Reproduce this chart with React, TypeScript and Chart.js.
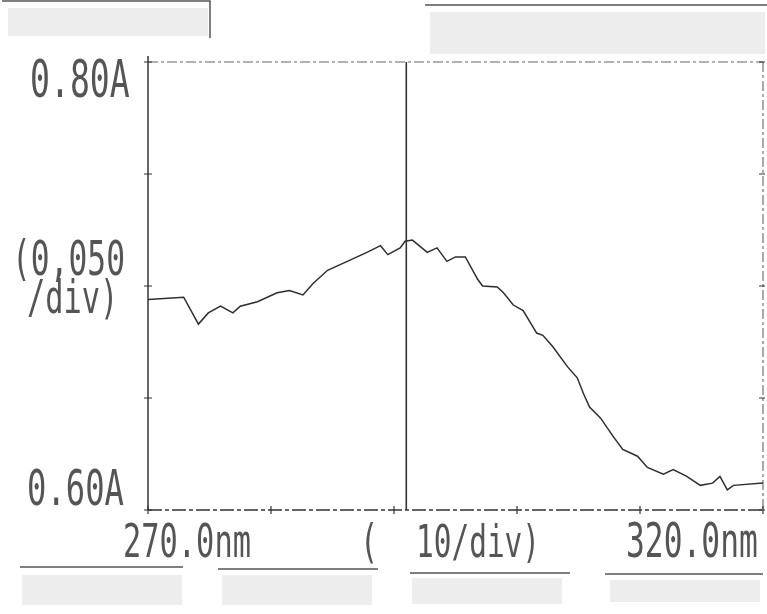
import React, { useEffect, useRef } from "react";
import { Chart, registerables } from "chart.js";

Chart.register(...registerables);

const wavelengths = [270.0, 272.9, 274.1, 274.9, 275.9, 276.9, 277.5, 278.9, 280.5, 281.5, 282.6, 283.4, 284.6, 286.2, 287.8, 288.9, 289.5, 290.5, 290.9, 291.5, 292.7, 293.5, 294.3, 295.0, 295.8, 296.8, 297.2, 298.4, 298.9, 299.7, 300.5, 301.1, 301.6, 302.1, 302.9, 304.1, 304.9, 305.4, 305.9, 306.8, 307.8, 308.6, 309.8, 310.6, 311.9, 312.7, 313.8, 314.9, 315.9, 316.5, 317.1, 317.6, 320.0];
const absorbance = [0.694, 0.695, 0.683, 0.688, 0.691, 0.688, 0.691, 0.693, 0.697, 0.698, 0.696, 0.701, 0.707, 0.711, 0.715, 0.718, 0.714, 0.717, 0.720, 0.7205, 0.715, 0.717, 0.711, 0.713, 0.713, 0.703, 0.700, 0.6996, 0.697, 0.6915, 0.689, 0.6835, 0.679, 0.678, 0.673, 0.664, 0.659, 0.652, 0.646, 0.641, 0.633, 0.627, 0.624, 0.619, 0.616, 0.618, 0.615, 0.611, 0.612, 0.615, 0.609, 0.611, 0.612];

const xTicks = [270, 280, 290, 300, 310, 320];
const yTicks = [0.6, 0.65, 0.7, 0.75, 0.8];
const cursorWavelength = 291.0;

const yTopLabel = "0.80A";
const yMidLabel = ["(0,050", "/div)"];
const yBottomLabel = "0.60A";
const xLeftLabel = "270.0nm";
const xMidOpen = "(";
const xMidLabel = "10/div)";
const xRightLabel = "320.0nm";

const FONT = '"DejaVu Sans Mono", "Liberation Mono", monospace';
const TEXT = "#555";

function stretched(ctx: CanvasRenderingContext2D, text: string, x: number, baseline: number, size: number, sy: number) {
  ctx.save();
  ctx.translate(x, baseline);
  ctx.scale(0.92, sy);
  ctx.font = `${size}px ${FONT}`;
  ctx.fillStyle = TEXT;
  ctx.textAlign = "left";
  ctx.textBaseline = "alphabetic";
  ctx.fillText(text, 0, 0);
  ctx.restore();
}

const framePlugin = {
  id: "framePlugin",
  beforeDatasetsDraw(chart: any) {
    const ctx: CanvasRenderingContext2D = chart.ctx;
    const { left, right, top, bottom } = chart.chartArea;
    const xs = chart.scales.x;
    const ys = chart.scales.y;
    ctx.save();
    // header / footer smudges
    ctx.fillStyle = "rgba(0,0,0,0.07)";
    ctx.fillRect(8, 8, 200, 28);
    ctx.fillRect(430, 12, 335, 42);
    ctx.fillRect(22, 575, 160, 30);
    ctx.fillRect(222, 575, 150, 30);
    ctx.fillRect(412, 578, 150, 26);
    ctx.fillRect(610, 580, 150, 22);
    ctx.strokeStyle = "#555";
    ctx.lineWidth = 1.5;
    ctx.beginPath();
    ctx.moveTo(2, 1); ctx.lineTo(210, 1); ctx.lineTo(210, 38);
    ctx.moveTo(425, 5); ctx.lineTo(767, 5);
    ctx.moveTo(20, 567); ctx.lineTo(183, 567);
    ctx.moveTo(218, 569); ctx.lineTo(378, 569);
    ctx.moveTo(410, 573); ctx.lineTo(570, 573);
    ctx.moveTo(605, 574); ctx.lineTo(763, 574);
    ctx.stroke();

    // frame
    ctx.strokeStyle = "#333";
    ctx.lineWidth = 1.5;
    ctx.beginPath();
    ctx.moveTo(left, top - 6); ctx.lineTo(left, bottom);
    ctx.stroke();
    ctx.lineWidth = 1.3;
    ctx.setLineDash([14, 3, 4, 3]);
    ctx.beginPath();
    ctx.moveTo(left, bottom); ctx.lineTo(right, bottom);
    ctx.stroke();
    ctx.strokeStyle = "#666";
    ctx.lineWidth = 1.1;
    ctx.setLineDash([10, 3, 3, 3]);
    ctx.beginPath();
    ctx.moveTo(left, top); ctx.lineTo(right, top);
    ctx.moveTo(right, top); ctx.lineTo(right, bottom);
    ctx.stroke();
    ctx.setLineDash([]);
    // cursor line
    const cx = xs.getPixelForValue(cursorWavelength);
    ctx.lineWidth = 1.6;
    ctx.strokeStyle = "#333";
    ctx.beginPath();
    ctx.moveTo(cx, top); ctx.lineTo(cx, bottom);
    ctx.stroke();
    // ticks
    ctx.lineWidth = 1.2;
    ctx.beginPath();
    yTicks.forEach((v) => {
      const py = ys.getPixelForValue(v);
      ctx.moveTo(left - 4, py); ctx.lineTo(left + 4, py);
      ctx.moveTo(right - 4, py); ctx.lineTo(right + 2, py);
    });
    xTicks.forEach((v) => {
      const px = xs.getPixelForValue(v);
      ctx.moveTo(px, bottom - 4); ctx.lineTo(px, bottom + 4);
    });
    ctx.stroke();

    // labels
    const yTop = ys.getPixelForValue(0.8);
    const yBot = ys.getPixelForValue(0.6);
    const yMid = ys.getPixelForValue(0.7);
    stretched(ctx, yTopLabel, 30, yTop + 35, 36, 1.45);
    stretched(ctx, yBottomLabel, 27, yBot - 5, 35, 1.4);
    stretched(ctx, yMidLabel[0], 12, yMid - 11, 34, 1.4);
    stretched(ctx, yMidLabel[1], 27, yMid + 27, 33, 1.4);
    stretched(ctx, xLeftLabel, xs.getPixelForValue(270) - 25, bottom + 47, 33, 1.4);
    stretched(ctx, xMidOpen, 360, bottom + 47, 33, 1.4);
    stretched(ctx, xMidLabel, 416, bottom + 47, 32, 1.4);
    stretched(ctx, xRightLabel, 626, bottom + 47, 34, 1.4);
    ctx.restore();
  },
};

export default function App() {
  const ref = useRef<HTMLCanvasElement | null>(null);
  useEffect(() => {
    document.body.style.margin = "0";
    document.body.style.background = "#fff";
    if (!ref.current) return;
    const chart = new Chart(ref.current, {
      type: "line",
      data: {
        datasets: [
          {
            data: wavelengths.map((w, i) => ({ x: w, y: absorbance[i] })),
            borderColor: "#2e2e2e",
            borderWidth: 1.5,
            pointRadius: 0,
            tension: 0,
            fill: false,
          },
        ],
      },
      options: {
        animation: false,
        responsive: false,
        devicePixelRatio: 1,
        layout: { padding: { left: 148, top: 62, right: 4, bottom: 104 } },
        plugins: { legend: { display: false }, tooltip: { enabled: false } },
        scales: {
          x: { type: "linear", min: 270, max: 320, display: false },
          y: { type: "linear", min: 0.6, max: 0.8, display: false },
        },
      },
      plugins: [framePlugin],
    });
    return () => chart.destroy();
  }, []);
  return <canvas ref={ref} width={767} height={614} style={{ display: "block" }} />;
}
